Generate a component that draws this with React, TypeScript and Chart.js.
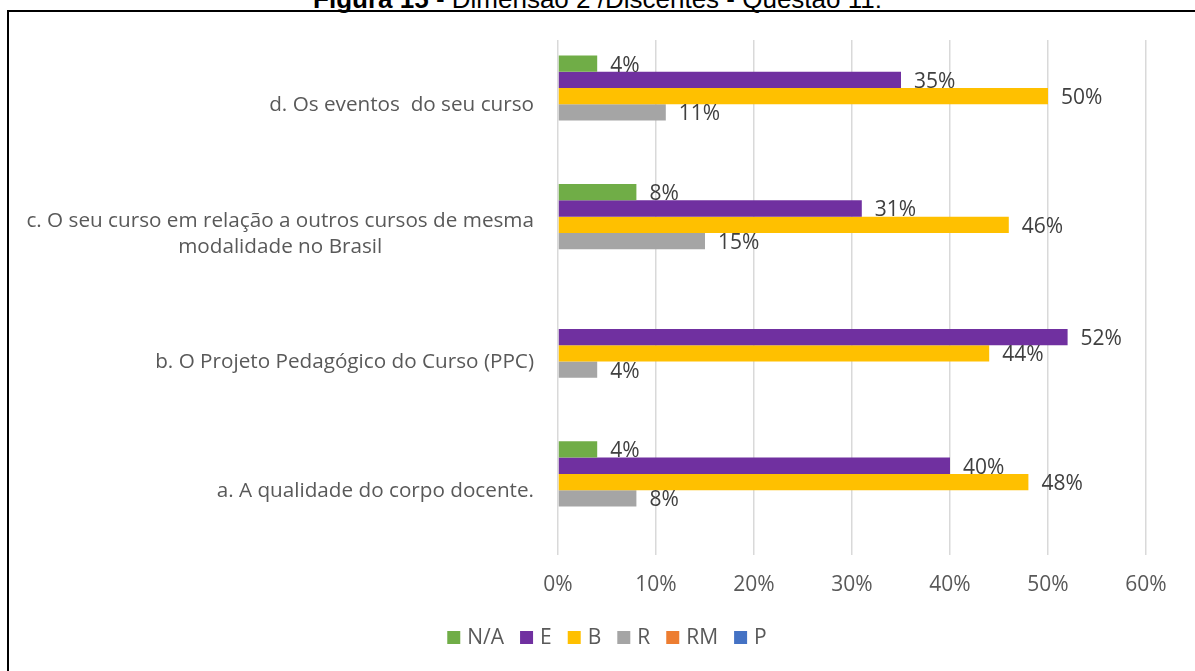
import React, { useEffect, useRef } from "react";
import { Chart, registerables } from "chart.js";

Chart.register(...registerables);

const categories: (string | string[])[] = [
  "d. Os eventos  do seu curso",
  ["c. O seu curso em relação a outros cursos de mesma", "modalidade no Brasil"],
  "b. O Projeto Pedagógico do Curso (PPC)",
  "a. A qualidade do corpo docente.",
];
const seriesNames = ["N/A", "E", "B", "R", "RM", "P"];
const seriesColors = ["#70AD47", "#7030A0", "#FFC000", "#A5A5A5", "#ED7D31", "#4472C4"];
const naValues = [4, 8, 0, 4];
const eValues = [35, 31, 52, 40];
const bValues = [50, 46, 44, 48];
const rValues = [11, 15, 4, 8];
const rmValues = [0, 0, 0, 0];
const pValues = [0, 0, 0, 0];
const xMin = 0;
const xMax = 60;
const xStep = 10;
const titleBold = "Figura 15";
const titleRest = " - Dimensão 2 /Discentes - Questão 11:";

const FONT = "'Open Sans'";

const valueLabels = {
  id: "valueLabels",
  afterDatasetsDraw(chart: any) {
    const ctx = chart.ctx;
    ctx.save();
    ctx.font = `21px ${FONT}`;
    ctx.fillStyle = "#404040";
    ctx.textAlign = "left";
    ctx.textBaseline = "middle";
    chart.data.datasets.forEach((ds: any, di: number) => {
      const meta = chart.getDatasetMeta(di);
      meta.data.forEach((el: any, i: number) => {
        const v = ds.data[i];
        if (!v) return;
        ctx.fillText(v + "%", el.x + 13, el.y + 2);
      });
    });
    ctx.restore();
  },
};

const categoryLabels = {
  id: "categoryLabels",
  afterDraw(chart: any) {
    const ctx = chart.ctx;
    const y = chart.scales.y;
    const rightEdge = chart.chartArea.left - 24;
    const lh = 26;
    ctx.save();
    ctx.font = `20.7px ${FONT}`;
    ctx.fillStyle = "#595959";
    ctx.textAlign = "center";
    ctx.textBaseline = "middle";
    categories.forEach((lab, i) => {
      const lines = Array.isArray(lab) ? lab : [lab];
      const w = Math.max(...lines.map((l) => ctx.measureText(l).width));
      const cx = rightEdge - w / 2;
      const cy = y.getPixelForValue(i);
      const start = cy - ((lines.length - 1) * lh) / 2;
      lines.forEach((l, k) => ctx.fillText(l, cx, start + k * lh + 1));
    });
    ctx.restore();
  },
};

const bottomLegend = {
  id: "bottomLegend",
  afterDraw(chart: any) {
    const ctx = chart.ctx;
    const box = 13;
    const gapText = 7;
    const gapItem = 16;
    const centerX = 607;
    const centerY = 637.5;
    ctx.save();
    ctx.font = `21px ${FONT}`;
    ctx.textBaseline = "middle";
    ctx.textAlign = "left";
    const items = chart.data.datasets.map((ds: any) => ({
      text: ds.label,
      color: ds.backgroundColor,
      w: ctx.measureText(ds.label).width,
    }));
    const total =
      items.reduce((s: number, it: any) => s + box + gapText + it.w, 0) +
      gapItem * (items.length - 1);
    let x = centerX - total / 2;
    items.forEach((it: any) => {
      ctx.fillStyle = it.color;
      ctx.fillRect(x, centerY - box / 2, box, box);
      x += box + gapText;
      ctx.fillStyle = "#595959";
      ctx.fillText(it.text, x, centerY + 1);
      x += it.w + gapItem;
    });
    ctx.restore();
  },
};

export default function App() {
  const ref = useRef<HTMLCanvasElement | null>(null);

  useEffect(() => {
    if (!ref.current) return;
    const values = [naValues, eValues, bValues, rValues, rmValues, pValues];
    const chart = new Chart(ref.current, {
      type: "bar",
      data: {
        labels: categories.map((c) => (Array.isArray(c) ? c.join(" ") : c)),
        datasets: seriesNames.map((n, i) => ({
          label: n,
          data: values[i],
          backgroundColor: seriesColors[i],
          borderWidth: 0,
          barPercentage: 1,
          categoryPercentage: 0.76,
        })),
      },
      options: {
        indexAxis: "y",
        responsive: false,
        animation: false,
        layout: { padding: { top: 40, right: 49, bottom: 0, left: 0 } },
        scales: {
          x: {
            min: xMin,
            max: xMax,
            ticks: {
              stepSize: xStep,
              callback: (v: any) => v + "%",
              font: { family: FONT, size: 21 },
              color: "#595959",
              padding: 18,
            },
            grid: { color: "#d9d9d9", lineWidth: 1.5, drawTicks: false },
            border: { display: false },
            afterFit: (s: any) => {
              s.height = 116.5;
            },
          },
          y: {
            ticks: { display: false },
            grid: { display: false },
            border: { display: false },
            afterFit: (s: any) => {
              s.width = 558;
            },
          },
        },
        plugins: {
          legend: { display: false },
          tooltip: { enabled: false },
        },
      },
      plugins: [valueLabels, categoryLabels, bottomLegend],
    });
    return () => chart.destroy();
  }, []);

  return (
    <div
      style={{
        position: "fixed",
        left: 0,
        top: 0,
        width: 1195,
        height: 671,
        overflow: "hidden",
        background: "#fff",
      }}
    >
      <div
        style={{
          position: "absolute",
          left: 0,
          top: -14,
          width: 1195,
          textAlign: "center",
          fontFamily: "'Liberation Sans', Arial, sans-serif",
          fontSize: 26,
          lineHeight: "26px",
          color: "#000",
          whiteSpace: "pre",
        }}
      >
        <b>{titleBold}</b>
        {titleRest}
      </div>
      <div
        style={{
          position: "absolute",
          left: 7,
          top: 10,
          width: 1300,
          height: 800,
          border: "2px solid #000",
        }}
      />
      <canvas
        ref={ref}
        width={1195}
        height={671}
        style={{ position: "absolute", left: 0, top: 0, width: 1195, height: 671 }}
      />
    </div>
  );
}
